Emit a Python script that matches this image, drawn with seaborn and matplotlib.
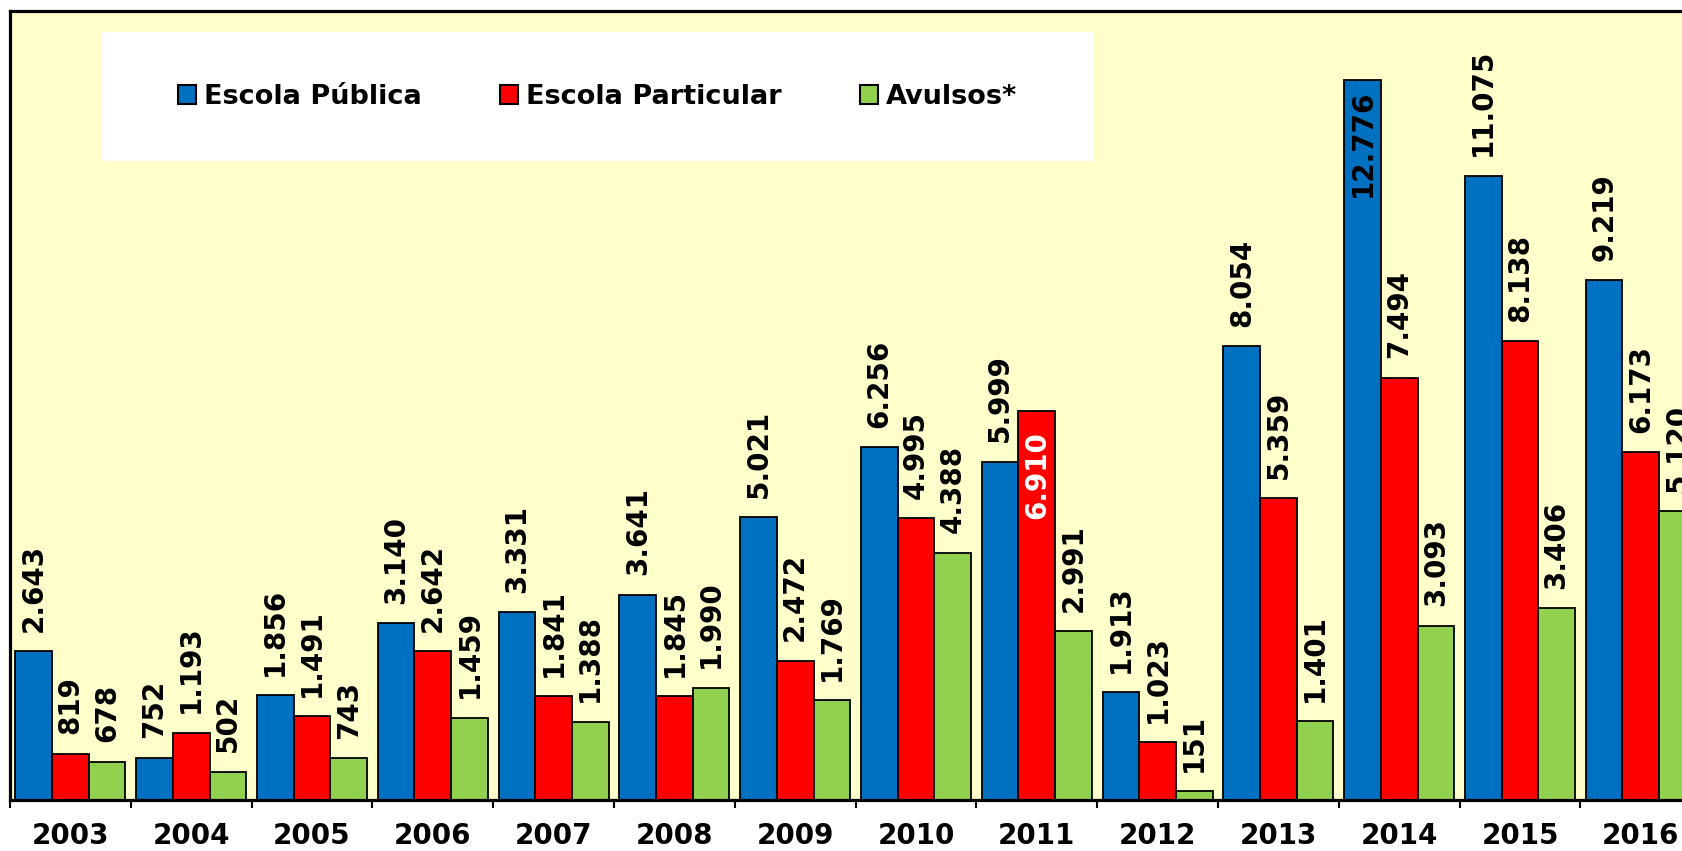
import numpy as np
import pandas as pd
import matplotlib
matplotlib.use("Agg")
import matplotlib.pyplot as plt
from matplotlib.patches import Rectangle
import seaborn as sns

# Matrículas por ano e tipo de escola
anos = ["2003", "2004", "2005", "2006", "2007", "2008", "2009",
        "2010", "2011", "2012", "2013", "2014", "2015", "2016"]
series = ["Escola Pública", "Escola Particular", "Avulsos*"]
escola_publica = [2643, 752, 1856, 3140, 3331, 3641, 5021,
                  6256, 5999, 1913, 8054, 12776, 11075, 9219]
escola_particular = [819, 1193, 1491, 2642, 1841, 1845, 2472,
                     4995, 6910, 1023, 5359, 7494, 8138, 6173]
avulsos = [678, 502, 743, 1459, 1388, 1990, 1769,
           4388, 2991, 151, 1401, 3093, 3406, 5120]
cores = ["#0070C0", "#FF0000", "#92D050"]

valores = [escola_publica, escola_particular, avulsos]
df = pd.DataFrame({
    "ano": np.tile(anos, len(series)),
    "serie": np.repeat(series, len(anos)),
    "valor": np.concatenate(valores),
})

sns.set_theme(style="white")
plt.rcParams["font.family"] = ["DejaVu Sans"]
plt.rcParams["font.weight"] = "bold"
plt.rcParams["text.color"] = "black"

W, H = 1683, 851
fig = plt.figure(figsize=(W / 100, H / 100), dpi=100, facecolor="white")
# plot area runs slightly past the right edge of the canvas
ax = fig.add_axes([10 / W, (H - 800) / H, 14 * 120.8 / W, 789 / H])
ax.set_facecolor("#FFFFCC")

sns.barplot(data=df, x="ano", y="valor", hue="serie", order=anos,
            hue_order=series, palette=cores, saturation=1, width=0.91,
            edgecolor="black", linewidth=1.3, errorbar=None,
            legend=False, ax=ax)

ax.set_xlim(-0.5, len(anos) - 0.5)
ax.set_ylim(0, 14000)
ax.set_yticks([])
ax.set_xlabel("")
ax.set_ylabel("")

for s in ["left", "bottom", "top", "right"]:
    ax.spines[s].set_visible(True)
    ax.spines[s].set_color("black")
    ax.spines[s].set_linewidth(2.3)

ax.set_xticks(np.arange(len(anos)), labels=anos)
ax.set_xticks(np.arange(-0.5, len(anos)), minor=True)
ax.tick_params(axis="x", which="major", length=0, pad=16,
               labelsize=20, labelcolor="black")
ax.tick_params(axis="x", which="minor", bottom=True, length=6,
               width=1.5, color="black")
for lbl in ax.get_xticklabels():
    lbl.set_fontweight("bold")


def fmt(v):
    return f"{v:,}".replace(",", ".")


# value labels; two bars carry their label inside, near the top
inside = {(0, 11): ("black", -7), (1, 8): ("white", -15)}
for si, cont in enumerate(ax.containers):
    for bi, bar in enumerate(cont.patches):
        v = valores[si][bi]
        x = bar.get_x() + bar.get_width() / 2
        if (si, bi) in inside:
            col, off = inside[(si, bi)]
            ax.annotate(fmt(v), (x, v), xytext=(0, off),
                        textcoords="offset points", rotation=90,
                        ha="center", va="top", fontsize=20,
                        fontweight="bold", color=col)
        else:
            ax.annotate(fmt(v), (x, v), xytext=(0, 14),
                        textcoords="offset points", rotation=90,
                        ha="center", va="bottom", fontsize=20,
                        fontweight="bold", color="black",
                        annotation_clip=False)

# legend panel
fig.patches.append(Rectangle((102 / W, (H - 161) / H), 991 / W, 129 / H,
                             transform=fig.transFigure, facecolor="white",
                             edgecolor="none", zorder=3))
handles = [Rectangle((0, 0), 1, 1, facecolor=c, edgecolor="black",
                     linewidth=1.5) for c in cores]
leg = fig.legend(handles, series, loc="center left",
                 bbox_to_anchor=(178 / W, (H - 97) / H), ncol=3,
                 frameon=False, fontsize=19.5, handlelength=0.65,
                 handleheight=0.65, handletextpad=0.3, columnspacing=2.9,
                 borderaxespad=0, borderpad=0)
leg.set_zorder(4)
for t in leg.get_texts():
    t.set_fontweight("bold")
    t.set_color("black")

fig.savefig("out.png", dpi=100, facecolor="white")
